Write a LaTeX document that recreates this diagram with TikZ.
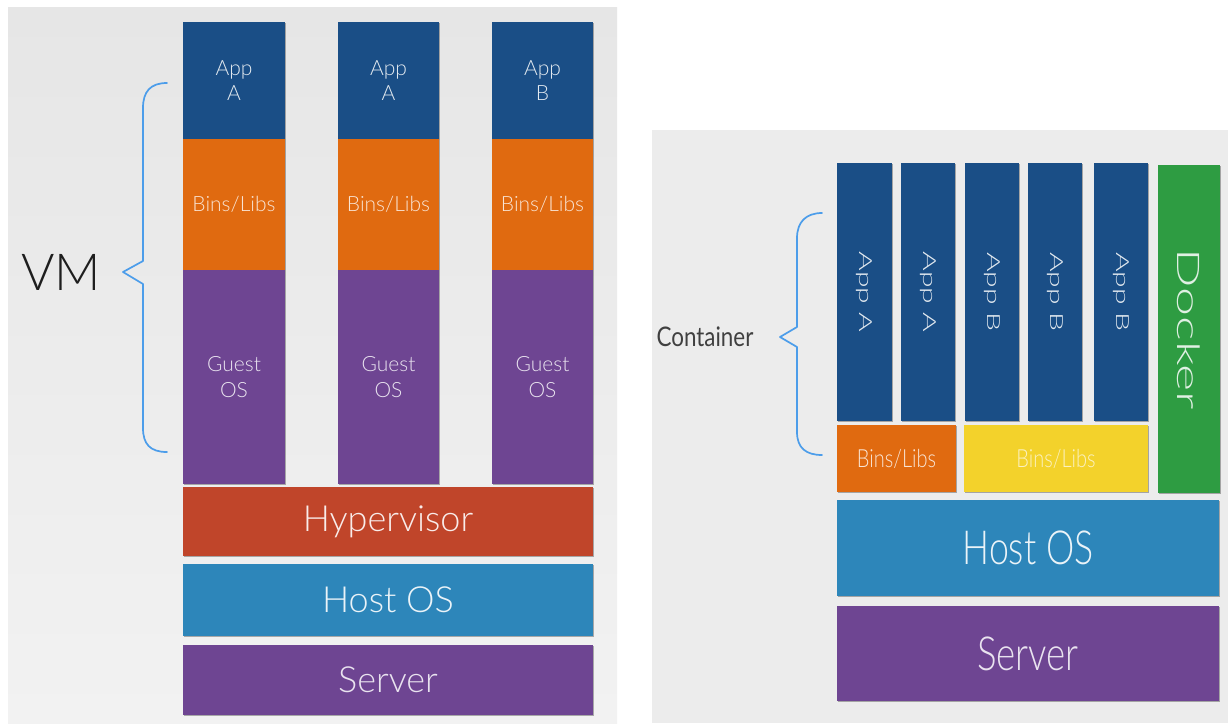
\documentclass[tikz,border=0pt]{standalone}
\usepackage{fontspec}
\setmainfont{Lato}[UprightFont={* Light}]
\newfontfamily\regfont{Lato}
\usetikzlibrary{shadows}
\definecolor{appblue}{HTML}{1A4E86}
\definecolor{binsor}{HTML}{E06A10}
\definecolor{guestpu}{HTML}{6E4592}
\definecolor{hypred}{HTML}{C0452A}
\definecolor{hostblue}{HTML}{2D86BA}
\definecolor{binsye}{HTML}{F3D22B}
\definecolor{dockgr}{HTML}{2E9C42}
\definecolor{bggray}{HTML}{ECECEC}
\definecolor{bgtop}{HTML}{E6E6E6}
\definecolor{bgbot}{HTML}{F2F2F2}
\definecolor{bracebl}{HTML}{4C9DEA}
\definecolor{labelgray}{HTML}{1E1E1E}
\newcommand\blk[7]{\node[#6, minimum width={(#4)-(#2)}, minimum height={(#5)-(#3)}] (#1) at ({((#2)+(#4))/2},{((#3)+(#5))/2}) {#7};}
\newcommand\fs[2]{\fontsize{#1}{#2}\selectfont}
\newcommand\vtext[2]{\rotatebox{-90}{\scalebox{1}[#1]{#2}}}
\newcommand\ctext[2]{\scalebox{#1}[1]{#2}}
\begin{document}
\begin{tikzpicture}[x=1pt,y=-1pt,
  layer/.style={inner sep=0pt, outer sep=0pt, align=center,
    drop shadow={shadow xshift=1.3pt, shadow yshift=-1.3pt, opacity=0.3, fill=black}},
  appbox/.style={layer, fill=appblue, text=white!88!appblue},
  binsbox/.style={layer, fill=binsor, text=white!82!binsor},
  guestbox/.style={layer, fill=guestpu, text=white!85!guestpu},
  hypbox/.style={layer, fill=hypred, text=white!90!hypred},
  hostbox/.style={layer, fill=hostblue, text=white!90!hostblue},
  yebox/.style={layer, fill=binsye, text=white!70!binsye},
  dockbox/.style={layer, fill=dockgr, text=white!85!dockgr},
  brace/.style={draw=bracebl, line width=1.7pt, line join=round, line cap=round},
  biglabel/.style={inner sep=0pt, text=labelgray}
]
\useasboundingbox (0,0) rectangle (1228,723);
\fill[white] (0,0) rectangle (1228,723);
\shade[top color=bgtop, bottom color=bgbot] (8,7) rectangle (617,723);
\fill[bggray] (652,130) rectangle (1228,723);

% ---------- left: VM stack ----------
\blk{appA1}{183}{22}{285}{139}{appbox, font=\fs{21}{25}}{App\\A}
\blk{appA2}{338}{22}{439}{139}{appbox, font=\fs{21}{25}}{App\\A}
\blk{appB1}{492}{22}{593}{139}{appbox, font=\fs{21}{25}}{App\\B}
\blk{binsL1}{183}{139}{285}{270}{binsbox, font=\fs{21}{25}}{Bins/Libs}
\blk{binsL2}{338}{139}{439}{270}{binsbox, font=\fs{21}{25}}{Bins/Libs}
\blk{binsL3}{492}{139}{593}{270}{binsbox, font=\fs{21}{25}}{Bins/Libs}
\blk{guest1}{183}{270}{285}{484}{guestbox, font=\fs{21}{26}}{Guest\\OS}
\blk{guest2}{338}{270}{439}{484}{guestbox, font=\fs{21}{26}}{Guest\\OS}
\blk{guest3}{492}{270}{593}{484}{guestbox, font=\fs{21}{26}}{Guest\\OS}
\blk{hyper}{183}{487}{593}{556}{hypbox, font=\fs{36}{40}}{Hypervisor}
\blk{hostL}{183}{564}{593}{636}{hostbox, font=\fs{36}{40}}{Host OS}
\blk{serverL}{183}{645}{593}{715}{guestbox, font=\fs{36}{40}}{Server}

\node[biglabel, font=\fs{51}{55}] (vm) at (61,272) {VM};
\coordinate (vmtop) at (167,83);
\coordinate (vmtip) at (123,272);
\coordinate (vmbot) at (167,452);
\draw[brace] (vmtop) .. controls (150,83) and (143,92) .. (143,108) -- (143,261)
  -- (vmtip) -- (143,284) -- (143,428) .. controls (143,444) and (150,452) .. (vmbot);

% ---------- right: container stack ----------
\blk{cA1}{837}{163}{892}{421}{appbox, font=\fs{30}{32}}{\vtext{0.6}{App A}}
\blk{cA2}{901}{163}{955}{421}{appbox, font=\fs{30}{32}}{\vtext{0.6}{App A}}
\blk{cB1}{965}{163}{1019}{421}{appbox, font=\fs{30}{32}}{\vtext{0.6}{App B}}
\blk{cB2}{1028}{163}{1082}{421}{appbox, font=\fs{30}{32}}{\vtext{0.6}{App B}}
\blk{cB3}{1094}{163}{1148}{421}{appbox, font=\fs{30}{32}}{\vtext{0.6}{App B}}
\blk{docker}{1158}{165}{1220}{493}{dockbox, font=\fs{52}{54}}{\vtext{0.6}{Docker}}
\blk{binsA}{837}{425}{956}{492}{binsbox, font=\fs{25}{28}}{\ctext{0.8}{Bins/Libs}}
\blk{binsB}{964}{425}{1148}{492}{yebox, font=\fs{25}{28}}{\ctext{0.8}{Bins/Libs}}
\blk{hostR}{837}{500}{1219}{596}{hostbox, font=\fs{47}{50}}{\ctext{0.76}{Host OS}}
\blk{serverR}{837}{606}{1219}{701}{guestbox, font=\fs{47}{50}}{\ctext{0.78}{Server}}

\node[biglabel, font=\regfont\fs{27}{30}, text=labelgray!85!white] (cont) at (705,337) {\ctext{0.83}{Container}};
\coordinate (cttop) at (822,213);
\coordinate (cttip) at (780,337);
\coordinate (ctbot) at (822,455);
\draw[brace] (cttop) .. controls (806,213) and (797,222) .. (797,238) -- (797,327)
  -- (cttip) -- (797,347) -- (797,432) .. controls (797,448) and (806,455) .. (ctbot);
\end{tikzpicture}
\end{document}
